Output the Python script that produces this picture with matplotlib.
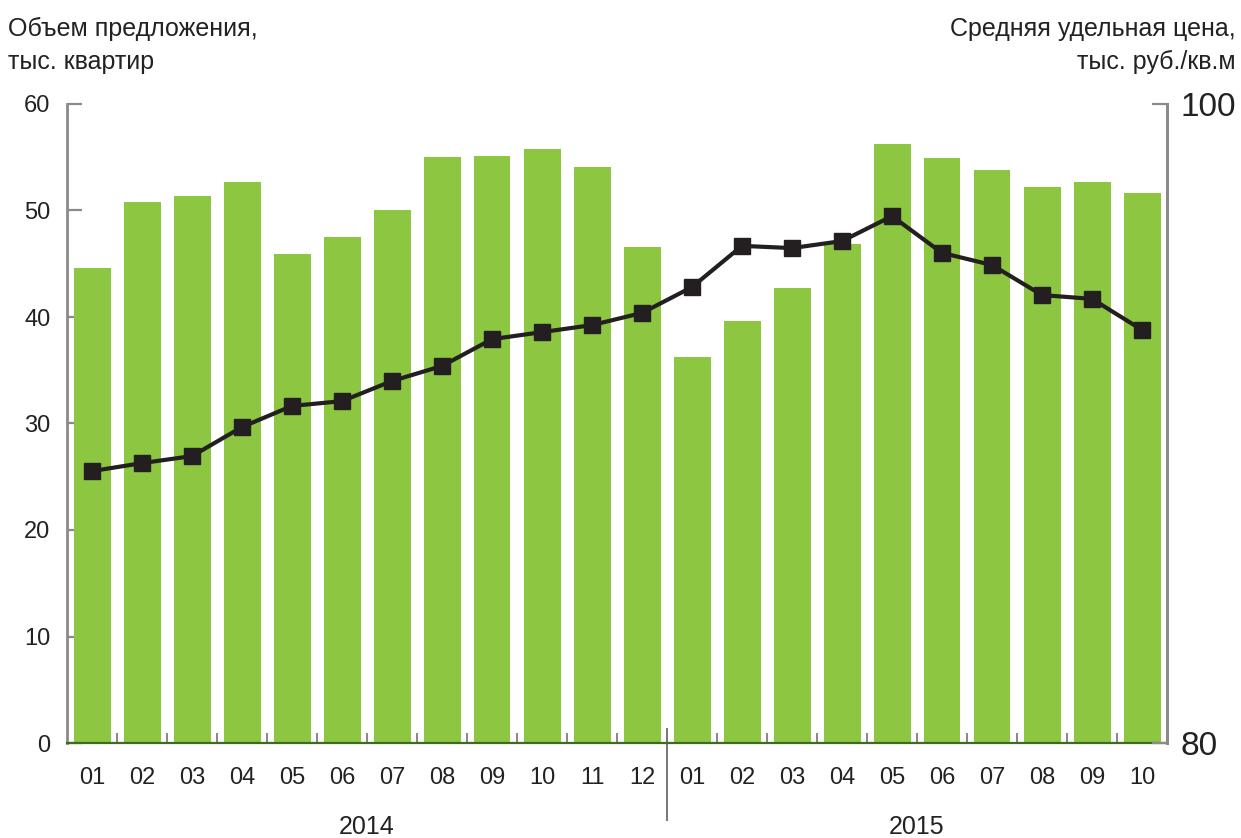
import matplotlib
matplotlib.use("Agg")
import matplotlib.pyplot as plt
from matplotlib.lines import Line2D
import numpy as np

plt.rcParams['font.family'] = ['Liberation Sans', 'DejaVu Sans']

months = ["01", "02", "03", "04", "05", "06", "07", "08", "09", "10", "11", "12",
          "01", "02", "03", "04", "05", "06", "07", "08", "09", "10"]
years = ["2014", "2015"]
supply = [44.6, 50.8, 51.4, 52.7, 45.9, 47.5, 50.0, 55.0, 55.1, 55.8, 54.1, 46.6,
          36.2, 39.6, 42.7, 46.9, 56.2, 54.9, 53.8, 52.2, 52.7, 51.6]
price = [88.51, 88.76, 88.98, 89.89, 90.55, 90.70, 91.33, 91.80, 92.64, 92.86, 93.08, 93.46,
         94.27, 95.56, 95.49, 95.71, 96.49, 95.34, 94.96, 94.02, 93.90, 92.93]

W, H = 1241, 838
fig = plt.figure(figsize=(W / 100, H / 100), dpi=100)
ax = fig.add_axes([67 / W, (H - 743) / H, (1167 - 67) / W, (743 - 104) / H])
x = np.arange(len(months))

ax.bar(x, supply, width=0.74, color="#8DC641", zorder=2)
ax.set_xlim(-0.5, len(months) - 0.5)
ax.set_ylim(0, 60)
ax.set_yticks(range(0, 61, 10))
ax.tick_params(axis='y', direction='in', length=11, width=1.6, color="#8a8a8a",
               labelsize=17, pad=12, labelcolor="#222222")
ax.set_xticks(x)
ax.set_xticklabels(months)
ax.tick_params(axis='x', which='major', length=0, labelsize=17, pad=17, labelcolor="#222222")
ax.set_xticks(np.arange(0.5, len(months) - 1, 1), minor=True)
ax.tick_params(axis='x', which='minor', direction='in', length=7, width=1.1, color="#666666")

ax.spines['top'].set_visible(False)
ax.spines['left'].set_color("#8a8a8a")
ax.spines['left'].set_linewidth(2)
ax.spines['right'].set_color("#8a8a8a")
ax.spines['right'].set_linewidth(2)
ax.spines['bottom'].set_color("#3f6b1f")
ax.spines['bottom'].set_linewidth(1.6)
ax.spines['bottom'].set_zorder(3)

ax2 = ax.twinx()
ax2.plot(x, price, color="#231F20", lw=3, marker='s', markersize=11, zorder=4)
ax2.set_ylim(80, 100)
ax2.set_yticks([80, 100])
ax2.tick_params(axis='y', direction='in', length=11, width=1.6, color="#8a8a8a",
                labelsize=24, pad=10, labelcolor="#222222")
for s in ['top', 'left', 'bottom']:
    ax2.spines[s].set_visible(False)
ax2.spines['right'].set_color("#8a8a8a")
ax2.spines['right'].set_linewidth(2)
ax2.set_xlim(-0.5, len(months) - 0.5)

# year separator
sep_x = 11.5
line = Line2D([sep_x, sep_x], [-0.12, 0.022], transform=ax.get_xaxis_transform(),
              color="#777777", lw=1.4, clip_on=False)
ax.add_line(line)

ax.text(5.5, -0.131, years[0], transform=ax.get_xaxis_transform(), ha='center',
        va='center', fontsize=18, color="#222222")
ax.text(16.5, -0.131, years[1], transform=ax.get_xaxis_transform(), ha='center',
        va='center', fontsize=18, color="#222222")

fig.text(8 / W, 1 - 17 / H, "Объем предложения,\nтыс. квартир", ha='left', va='top',
         fontsize=18, color="#222222", linespacing=1.45)
fig.text(1236 / W, 1 - 17 / H, "Средняя удельная цена,\nтыс. руб./кв.м", ha='right',
         va='top', fontsize=18, color="#222222", linespacing=1.45, multialignment='right')

fig.savefig("out.png", dpi=100)
